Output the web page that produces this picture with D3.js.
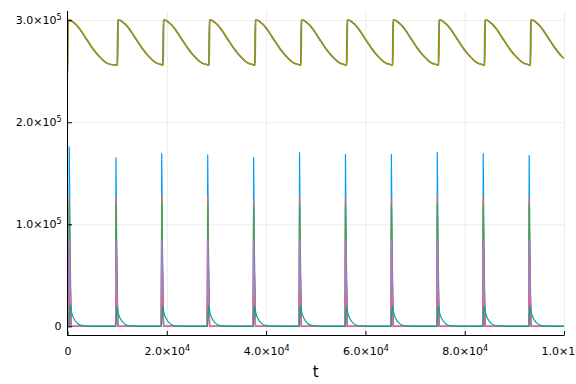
<!DOCTYPE html>
<html><head><meta charset="utf-8">
<script src="https://cdn.jsdelivr.net/npm/d3@7/dist/d3.min.js"></script>
<style>html,body{margin:0;padding:0;background:#fff;} svg{display:block;}</style>
</head><body>
<svg id="chart" width="576" height="384"></svg>
<script>
// ---- data ----
const xTicks = [0, 20000, 40000, 60000, 80000, 100000];
const yTicks = [0, 100000, 200000, 300000];
// times of the spikes
const spikeT = [363, 9768, 18973, 28238, 37487, 46736, 55985, 65234, 74483, 83732, 92981];
// spike peaks
const blueP   = [175800, 165100, 169300, 168000, 165400, 170300, 168300, 168300, 170300, 169300, 167300];
const orangeP = [125000, 126000, 128000, 127500, 124000, 127000, 126000, 125500, 127000, 128000, 126500];
const greenP  = [122000, 119000, 120000, 118500, 117000, 119000, 118000, 118500, 119500, 117700, 118000];
const purpleP = [86000, 84000, 85000, 85000, 84000, 85500, 85000, 84500, 85000, 85000, 84500];
const pinkP   = [31000, 30000, 30500, 30000, 29500, 30500, 30000, 30000, 30500, 30000, 30000];
const tealP   = [21000, 19500, 20000, 20000, 19500, 20500, 20000, 19800, 20200, 20000, 19800];
// shape of the narrow spike (time offset, fraction of peak)
const spikeOff  = [-90, 0, 160, 380];
const spikeFrac = [0, 1, 0.45, 0];
// decay of the teal series after each spike
const tealOff  = [-60, 180, 500, 1000, 1500, 2000, 3000, 4500];
const tealFrac = [0, 1, 0.62, 0.33, 0.17, 0.08, 0.02, 0];
// upper series: start value, jump times, one cycle profile after each jump
const topStart = 248000;
const topJumpT = [120, 10110, 19300, 28560, 37810, 47060, 56300, 65550, 74800, 84050, 93290];
const topOff = [0, 300, 800, 2160, 3500, 4850, 6200, 7540, 8750];
const topVal = [300000, 300000, 298700, 292300, 282500, 272700, 264500, 258600, 256400];
const topBottom = 256000;
const topEndVal = 262500;
const tEnd = 100000;

// ---- layout ----
const svg = d3.select("#chart");
const L = 67.5, R = 564, T = 11, B = 335.5;
const x = d3.scaleLinear().domain([0, 100000]).range([L, R]);
const y = d3.scaleLinear().domain([-9000, 309000]).range([B, T]);

function fmtParts(v) {
  if (v === 0) return null;
  const e = Math.floor(Math.log10(Math.abs(v)));
  const m = v / Math.pow(10, e);
  return [m.toFixed(1) + "×10", String(e)];
}

// grid
svg.append("g").attr("transform", `translate(0,${B})`)
  .call(d3.axisBottom(x).tickValues(xTicks).tickSize(-(B - T)).tickFormat(""))
  .call(g => { g.select(".domain").remove(); g.selectAll("line").attr("stroke", "#000").attr("stroke-opacity", 0.08); });
svg.append("g").attr("transform", `translate(${L},0)`)
  .call(d3.axisLeft(y).tickValues(yTicks).tickSize(-(R - L)).tickFormat(""))
  .call(g => { g.select(".domain").remove(); g.selectAll("line").attr("stroke", "#000").attr("stroke-opacity", 0.08); });

// build series
function spikeSeries(peaks, off, frac) {
  const pts = [[0, 0]];
  spikeT.forEach((t, i) => off.forEach((o, j) => pts.push([Math.max(0, t + o), peaks[i] * frac[j]])));
  pts.push([tEnd, 0]);
  return pts;
}
function topSeries(shift) {
  const pts = [[0, topStart]];
  topJumpT.forEach((tj, i) => {
    const t0 = tj + shift;
    const next = i + 1 < topJumpT.length ? topJumpT[i + 1] + shift : Infinity;
    if (i > 0) pts.push([t0 - 60, topBottom]);
    topOff.forEach((o, j) => { const t = t0 + 60 + o; if (t < next - 60 && t <= tEnd) pts.push([t, topVal[j]]); });
  });
  pts.push([tEnd, topEndVal]);
  return pts.filter(p => p[0] <= tEnd).sort((a, b) => a[0] - b[0]);
}

const lineLin = d3.line().x(d => x(d[0])).y(d => y(d[1]));
const lineMono = d3.line().x(d => x(d[0])).y(d => y(d[1])).curve(d3.curveMonotoneX);

const plot = svg.append("g");
plot.append("defs").append("clipPath").attr("id", "clip")
  .append("rect").attr("x", L).attr("y", T).attr("width", R - L).attr("height", B - T);
const pg = plot.append("g").attr("clip-path", "url(#clip)");

const series = [
  { d: spikeSeries(blueP, spikeOff, spikeFrac), c: "#009AFA", f: lineLin },
  { d: spikeSeries(orangeP, spikeOff, spikeFrac), c: "#E36F47", f: lineLin },
  { d: spikeSeries(greenP, spikeOff, spikeFrac), c: "#3EA44E", f: lineLin },
  { d: spikeSeries(purpleP, spikeOff, spikeFrac), c: "#C371D2", f: lineLin },
  { d: topSeries(-80), c: "#00AAAE", f: lineMono },
  { d: spikeSeries(pinkP, spikeOff, spikeFrac), c: "#ED5E93", f: lineLin },
  { d: topSeries(80), c: "#C68225", f: lineMono },
  { d: spikeSeries(tealP, tealOff, tealFrac), c: "#00A98D", f: lineMono },
  { d: topSeries(0), c: "#8E971D", f: lineMono },
  { d: topSeries(0), c: "#AC8E18", f: lineMono, o: 0.6 }
];
series.forEach(s => {
  pg.append("path").attr("d", s.f(s.d)).attr("fill", "none")
    .attr("stroke", s.c).attr("stroke-width", 1.2).attr("stroke-linejoin", "round")
    .attr("stroke-opacity", s.o || 1);
});

// axes
function decorate(g) {
  g.select(".domain").attr("stroke", "#000").attr("stroke-width", 1);
  g.selectAll(".tick line").attr("stroke", "#000").attr("stroke-width", 1);
  g.selectAll(".tick text").each(function (v) {
    const t = d3.select(this);
    t.text(null).attr("font-family", "DejaVu Sans, sans-serif").attr("font-size", 11).attr("fill", "#000");
    const p = fmtParts(v);
    if (!p) { t.text("0"); return; }
    t.append("tspan").text(p[0]);
    t.append("tspan").text(p[1]).attr("font-size", 8).attr("dy", "-0.55em");
  });
}
const ax = svg.append("g").attr("transform", `translate(0,${B})`)
  .call(d3.axisBottom(x).tickValues(xTicks).tickSize(-4.5).tickSizeOuter(0).tickPadding(10))
  .call(decorate);
ax.selectAll(".tick text").attr("dy", "0.71em").attr("y", 12);
const ay = svg.append("g").attr("transform", `translate(${L},0)`)
  .call(d3.axisLeft(y).tickValues(yTicks).tickSize(-4.5).tickSizeOuter(0).tickPadding(6))
  .call(decorate);
ax.select(".domain").attr("d", `M${L},0H${R}`);
ay.select(".domain").attr("d", `M0,${B}V${T}`);

svg.append("text").attr("x", (L + R) / 2).attr("y", 377).attr("text-anchor", "middle")
  .attr("font-family", "DejaVu Sans, sans-serif").attr("font-size", 15).text("t");
</script>
</body></html>
